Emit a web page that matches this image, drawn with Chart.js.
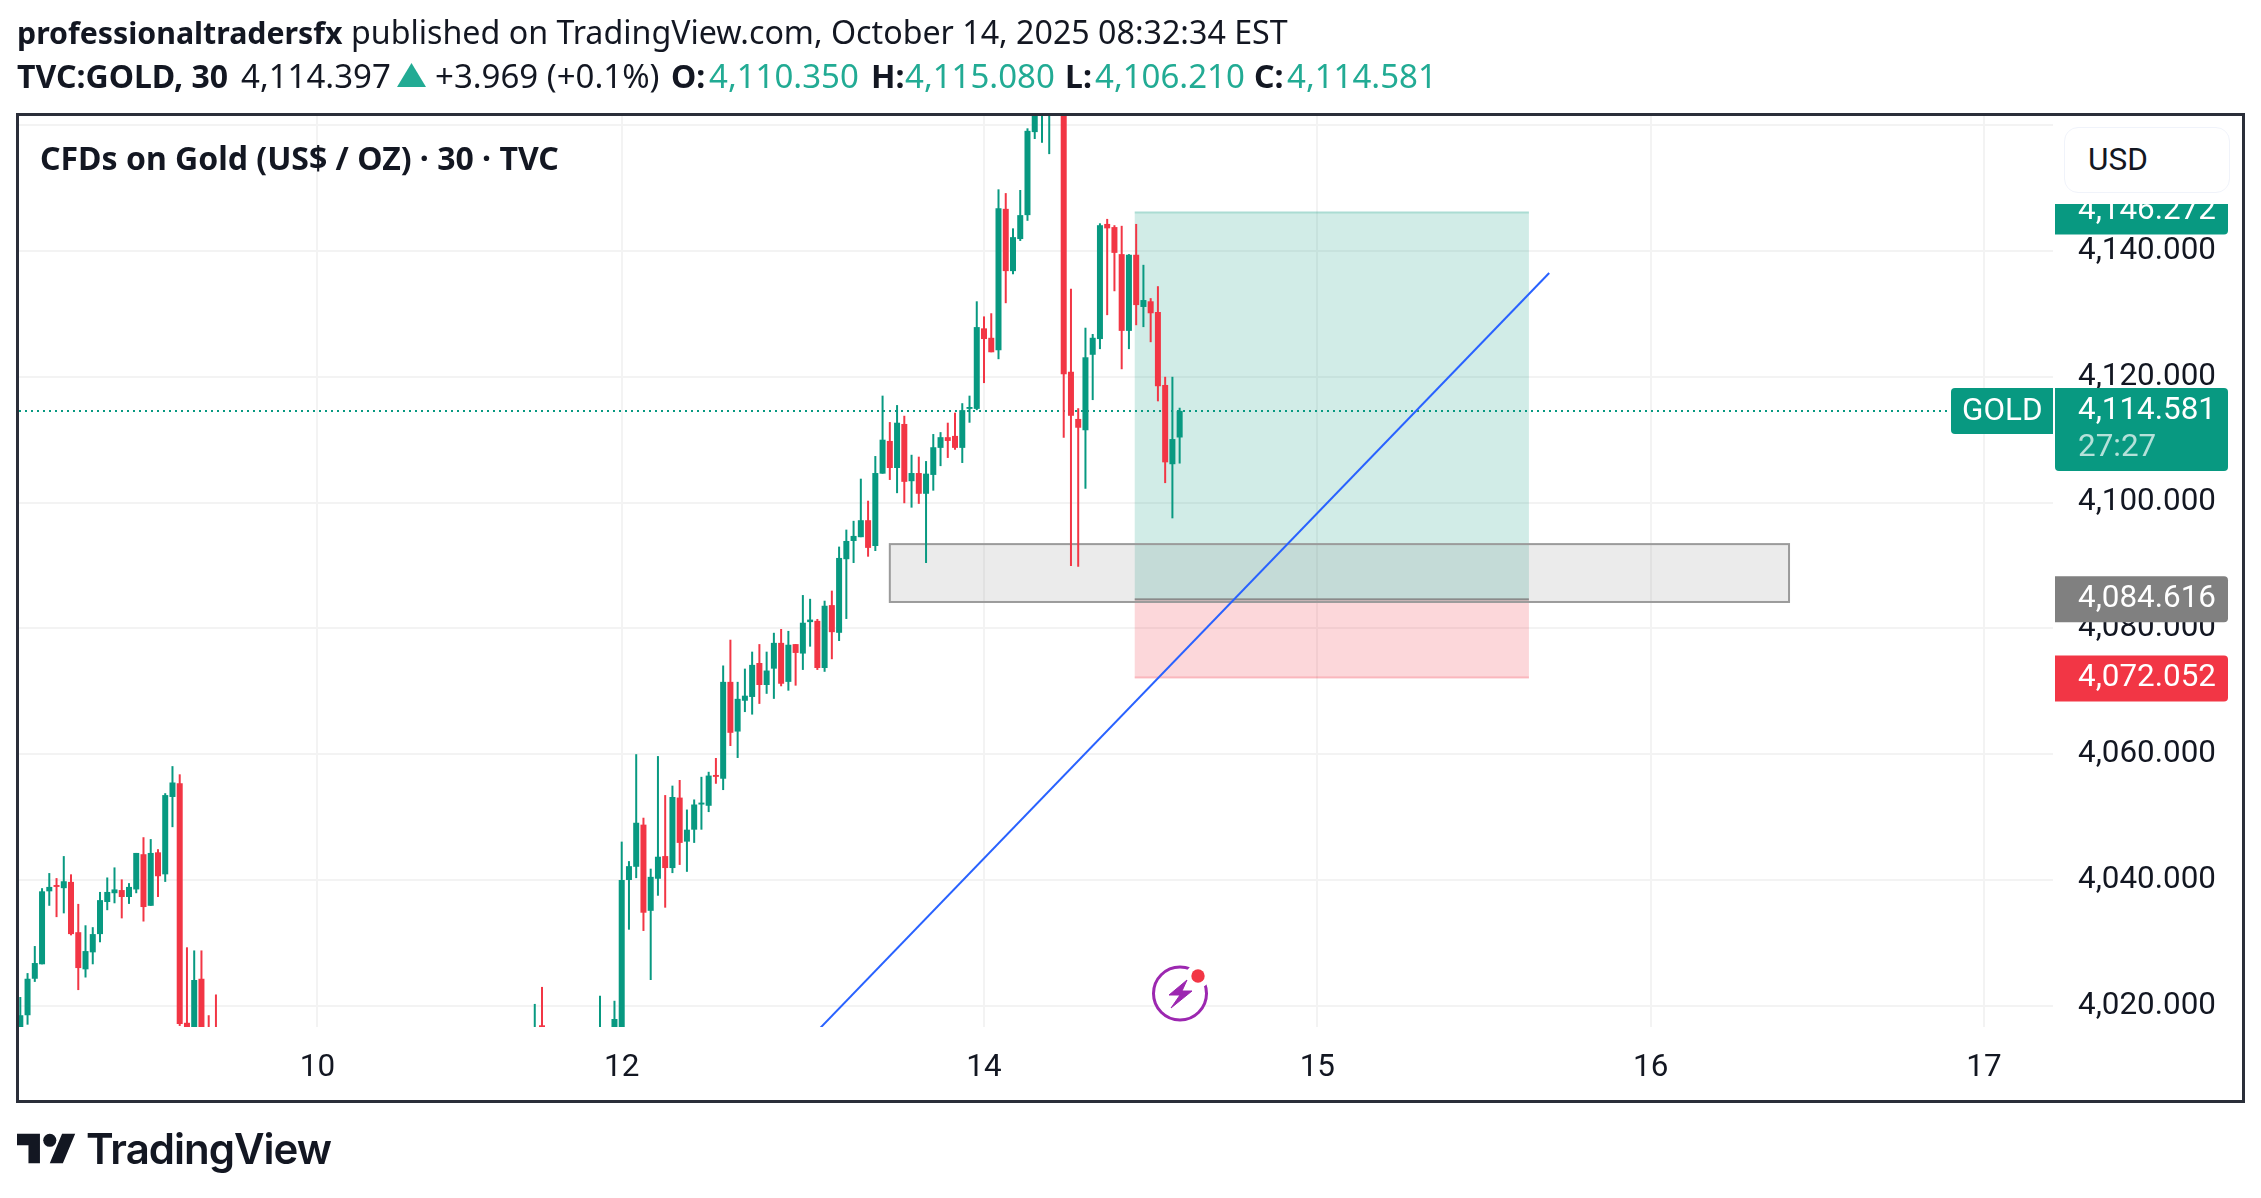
<!DOCTYPE html>
<html lang="en">
<head>
<meta charset="UTF-8">
<title>TVC:GOLD 30</title>
<script src="https://cdn.jsdelivr.net/npm/chart.js"></script>
<style>
    body { margin: 0; background: #fff; color: #131722; font-family: "Noto Sans", sans-serif; }
    #wrap { position: relative; width: 2261px; height: 1198px; overflow: hidden; }
    canvas { position: absolute; left: 0; top: 0; }
    .abs { position: absolute; white-space: nowrap; }
    .up { color: #22ab94; }
    b { font-weight: 700; }
    #line1 { left: 17px; top: 11px; font-size: 32.2px; line-height: 42px; }
    #line1 b { font-size: 30.3px; }
    .l2 { top: 55px; font-size: 33px; line-height: 42px; }
    .l2 b, b.l2 { font-size: 32px; }
    #tri { left: 397px; top: 63px; }
    #title { left: 40px; top: 137px; font-size: 32px; line-height: 42px; font-weight: 700; }
    #frame { left: 16px; top: 113px; width: 2229px; height: 990px; box-sizing: border-box; border: 3px solid #2a2e39; }
    #mask { left: 2055px; top: 95px; width: 187px; height: 109px; background: #fff; }
    #usd { left: 2064px; top: 127px; width: 166px; height: 66px; box-sizing: border-box; border: 1px solid #f0f3fa; border-radius: 14px; background: #fff;
           font: 31.5px Roboto, sans-serif; line-height: 64px; padding-left: 23px; }
    #logo { left: 17px; top: 1133px; }
    #logotext { left: 86px; top: 1122px; font: 600 42px/54px Inter, sans-serif; letter-spacing: -1px; }
    #bolt { left: 1130px; top: 950px; }
</style>
</head>
<body>
<div id="wrap">
    <canvas id="goldChart" width="2261" height="1198"></canvas>
    <div class="abs" id="line1"><b>professionaltradersfx</b> published on TradingView.com, October 14, 2025 08:32:34 EST</div>
    <b class="abs l2" style="left:17px">TVC:GOLD, 30</b>
    <span class="abs l2" style="left:241px">4,114.397</span>
    <svg class="abs" id="tri" width="29" height="24" viewBox="0 0 29 24"><polygon points="14.5,0 29,24 0,24" fill="#22ab94"/></svg>
    <span class="abs l2" style="left:435px">+3.969 (+0.1%)</span>
    <b class="abs l2" style="left:671px">O:</b><span class="abs l2 up" style="left:709px">4,110.350</span>
    <b class="abs l2" style="left:871px">H:</b><span class="abs l2 up" style="left:905px">4,115.080</span>
    <b class="abs l2" style="left:1065px">L:</b><span class="abs l2 up" style="left:1095px">4,106.210</span>
    <b class="abs l2" style="left:1254px">C:</b><span class="abs l2 up" style="left:1287px">4,114.581</span>
    <div class="abs" id="title">CFDs on Gold (US$ / OZ) · 30 · TVC</div>
    <svg class="abs" id="bolt" width="100" height="100" viewBox="0 0 100 100">
        <circle cx="50" cy="43.5" r="26.5" fill="#fff" stroke="#9c27b0" stroke-width="3"/>
        <circle cx="68" cy="26" r="12" fill="#fff"/>
        <circle cx="68" cy="26" r="6.7" fill="#f23645"/>
        <polygon points="57,30 39,45 50,45 41,58 62,41 52,41" fill="#9c27b0" stroke="#9c27b0" stroke-width="1"/>
    </svg>
    <div class="abs" id="mask"></div>
    <div class="abs" id="usd">USD</div>
    <div class="abs" id="frame"></div>
    <svg class="abs" id="logo" width="59" height="31" viewBox="0 4 36 18">
        <path d="M14 22H7V11H0V4h14v18zM28 22h-8l7.5-18h8L28 22z" fill="#131722"/>
        <circle cx="20" cy="8" r="4" fill="#131722"/>
    </svg>
    <div class="abs" id="logotext">TradingView</div>
</div>

<script>
    // bars that sit completely below the pane are left out
    const gap = (n) => Array(n).fill(null);

    const opens = [
        4014, 4018.5, 4024.3, 4026.6, 4038.2, 4039.2, 4038.7, 4039.7, 4031.7, 4025.8,
        4028.5, 4031.4, 4036.5, 4037.9, 4038.4, 4037.3, 4038.5, 4044.1, 4035.9, 4044.4,
        4040.9, 4053.2, 4055.4, 4017.3, 4014, 4024.3, 4012, 4014,
        ...gap(43), 4012, 4016.9, ...gap(7), 4012, null, 4014, 4014,
        4040.0, 4042.1, 4048.8, 4035.1, 4040.2, 4043.8, 4041.9, 4053.1, 4046.1, 4048.0,
        4052.0, 4051.8, 4056.7, 4056.1, 4071.5, 4063.6, 4068.5, 4069.1, 4074.5, 4071.0,
        4073.6, 4077.7, 4071.5, 4077.5, 4076.0, 4081.0, 4081.2, 4073.7, 4083.7, 4079.3,
        4091.0, 4093.9, 4094.5, 4097.2, 4093.1, 4104.6, 4109.8, 4105.5, 4112.5, 4103.4,
        4104.7, 4101.4, 4104.4, 4108.7, 4110.4, 4110.6, 4108.7, 4114.9, 4114.9,
        4127.7, 4126.2, 4124.2, 4146.7, 4136.8, 4141.9, 4145.7, 4158.9, 4163, 4166, null,
        4171, 4120.8, 4113.3, 4111.5, 4123.5, 4126.0, 4144.3, 4143.8, 4139.5, 4127.3,
        4139.4, 4131.1, 4132.0, 4130.3, 4118.7, 4106.1, 4110.35
    ];
    const highs = [
        4021.4, 4025.2, 4029.5, 4038.7, 4041.1, 4040.3, 4043.8, 4040.9, 4036.2, 4032.8,
        4032.5, 4038.1, 4040.4, 4042.0, 4040.1, 4039.5, 4044.3, 4046.8, 4046.5, 4044.9,
        4053.8, 4058.1, 4056.8, 4029.3, 4028.8, 4028.8, 4018.5, 4021.8,
        ...gap(43), 4020.3, 4023, ...gap(7), 4021.6, null, 4020.8, 4046.1,
        4043.0, 4060.0, 4049.9, 4041.8, 4059.7, 4053.5, 4055.0, 4055.9, 4051.2, 4052.8,
        4056.4, 4057.2, 4059.4, 4074.1, 4078.2, 4071.5, 4073.6, 4076.3, 4077.5, 4076.3,
        4079.3, 4079.9, 4079.6, 4077.5, 4085.3, 4084.7, 4081.5, 4084.4, 4086.0, 4093.0,
        4095.7, 4097.1, 4103.8, 4100.3, 4107.4, 4117.0, 4112.8, 4115.5, 4113.8, 4107.6,
        4107.3, 4106.6, 4110.9, 4111.2, 4112.7, 4114.3, 4115.8, 4117.0, 4132.0,
        4129.6, 4130.1, 4149.8, 4149.2, 4143.6, 4149.7, 4159.5, 4165, 4168, 4172, null,
        4172, 4134.0, 4115.0, 4127.8, 4126.8, 4144.4, 4145.1, 4144.1, 4144.0, 4139.5,
        4144.3, 4137.8, 4132.5, 4134.4, 4120.0, 4120.0, 4115.08
    ];
    const lows = [
        4012, 4017.0, 4023.8, 4026.6, 4035.9, 4034.1, 4034.7, 4031.2, 4022.5, 4024.5,
        4026.6, 4030.1, 4035.2, 4036.3, 4033.9, 4036.2, 4037.9, 4033.4, 4035.9, 4037.3,
        4039.7, 4048.4, 4016.8, 4010, 4012, 4008, 4004, 4006,
        ...gap(43), 4010, 4010, ...gap(7), 4010, null, 4012, 4010,
        4032.1, 4040.3, 4031.9, 4024.1, 4037.5, 4035.6, 4041.1, 4042.4, 4041.3, 4045.9,
        4048.0, 4050.8, 4055.3, 4054.3, 4061.3, 4059.4, 4066.7, 4066.3, 4068.0, 4069.6,
        4068.8, 4070.8, 4070.1, 4070.9, 4073.4, 4077.1, 4073.4, 4073.1, 4075.1, 4078.0,
        4081.5, 4090.4, 4094.5, 4091.4, 4092.3, 4104.6, 4103.6, 4101.5, 4099.9, 4099.2,
        4099.8, 4090.4, 4101.9, 4105.8, 4107.1, 4108.4, 4106.3, 4112.7, 4114.7,
        4119.0, 4123.9, 4122.8, 4131.7, 4136.3, 4141.6, 4144.8, 4157.8, 4157.2, 4155.4, null,
        4110.3, 4089.9, 4089.8, 4102.2, 4116.3, 4124.4, 4129.8, 4133.6, 4121.2, 4124.4,
        4128.2, 4127.9, 4125.5, 4116.1, 4103.1, 4097.5, 4106.21
    ];
    const closes = [
        4018.5, 4024.3, 4026.8, 4038.2, 4038.9, 4038.9, 4039.8, 4031.4, 4026.0, 4028.7,
        4031.4, 4036.8, 4038.1, 4038.5, 4037.3, 4038.9, 4044.3, 4035.7, 4044.3, 4040.6,
        4053.5, 4055.5, 4017.1, 4012, 4024.1, 4010, 4006, 4008,
        ...gap(43), 4014, 4012, ...gap(7), 4014, null, 4017.9, 4040.0,
        4042.2, 4049.1, 4034.8, 4040.5, 4043.7, 4041.9, 4053.2, 4045.9, 4048.0, 4052.0,
        4052.3, 4056.6, 4056.4, 4071.5, 4063.4, 4068.8, 4069.3, 4074.2, 4071.0, 4073.3,
        4077.7, 4071.2, 4077.4, 4076.1, 4080.9, 4081.4, 4073.7, 4083.6, 4079.4, 4091.2,
        4093.9, 4094.7, 4097.2, 4092.8, 4104.7, 4110.0, 4105.5, 4112.7, 4103.3, 4104.7,
        4101.4, 4104.6, 4108.8, 4110.4, 4109.8, 4108.7, 4114.7, 4115.2, 4127.9,
        4126.0, 4123.9, 4146.8, 4136.8, 4142.2, 4145.7, 4159.1, 4163, 4166, 4170, null,
        4120.4, 4113.8, 4111.9, 4123.1, 4126.2, 4144.1, 4143.6, 4139.7, 4127.3, 4139.4,
        4131.4, 4132.2, 4130.1, 4118.5, 4106.4, 4110.1, 4114.581
    ];

    const tickBars = [41, 83, 133, 179, 225, 271];
    const tickLabels = ['10', '12', '14', '15', '16', '17'];

    // drawings: bar index and price
    const lastPrice = 4114.581;
    const lastLineEnd = 266.4;
    const trendBars = [110, 211];
    const trendPrices = [4016.0, 4136.5];
    const positionBars = [153.8, 208.2];
    const targetPrice = 4146.272;
    const entryPrice = 4084.616;
    const stopPrice = 4072.052;
    const zoneBars = [120, 244.1];
    const zonePrices = [4093.4, 4084.2];

    const UP = '#089981';
    const DOWN = '#f23645';
    const FONT = '31.4px Roboto, sans-serif';

    const bars = opens.map((o, i) => i).filter(i => opens[i] !== null);
    const barColors = bars.map(i => closes[i] >= opens[i] ? UP : DOWN);

    const fmt = (v) => v.toLocaleString('en-US', { minimumFractionDigits: 3, maximumFractionDigits: 3 });

    const roundBox = (ctx, x, y, w, h, r) => {
        ctx.beginPath();
        ctx.roundRect(x, y, w, h, r);
        ctx.fill();
    };

    // the two boxes sit under the candles
    const drawingsPlugin = {
        id: 'drawings',
        beforeDatasetsDraw(chart) {
            const { ctx, chartArea, scales: { x, y } } = chart;
            const left = x.getPixelForValue(positionBars[0]);
            const right = x.getPixelForValue(positionBars[1]);
            const top = y.getPixelForValue(targetPrice);
            const mid = y.getPixelForValue(entryPrice);
            const bot = y.getPixelForValue(stopPrice);
            ctx.save();
            ctx.beginPath();
            ctx.rect(chartArea.left, chartArea.top, chartArea.width, chartArea.height);
            ctx.clip();
            ctx.fillStyle = 'rgba(8,153,129,0.19)';
            ctx.fillRect(left, top, right - left, mid - top);
            ctx.fillRect(left, top, right - left, 2);
            ctx.fillStyle = 'rgba(242,54,69,0.2)';
            ctx.fillRect(left, mid, right - left, bot - mid);
            ctx.fillRect(left, bot - 2, right - left, 2);
            const zx = x.getPixelForValue(zoneBars[0]);
            const zw = x.getPixelForValue(zoneBars[1]) - zx;
            const zy = y.getPixelForValue(zonePrices[0]);
            const zh = y.getPixelForValue(zonePrices[1]) - zy;
            ctx.fillStyle = 'rgba(128,128,128,0.16)';
            ctx.fillRect(zx, zy, zw, zh);
            ctx.fillStyle = '#8a8a8a';
            ctx.fillRect(left, mid - 1, right - left, 2);
            ctx.strokeStyle = '#9b9b9b';
            ctx.lineWidth = 2;
            ctx.strokeRect(zx, zy, zw, zh);
            ctx.restore();
        },
        afterDraw(chart) {
            const { ctx, chartArea, scales: { y } } = chart;
            const labelLeft = chartArea.right + 2;
            const labelWidth = 173;
            const textX = chartArea.right + 25;
            ctx.save();
            ctx.font = FONT;
            ctx.textBaseline = 'middle';
            [[targetPrice, UP], [entryPrice, '#808080'], [stopPrice, DOWN]].forEach(([price, color]) => {
                const py = y.getPixelForValue(price);
                ctx.fillStyle = color;
                roundBox(ctx, labelLeft, py - 23, labelWidth, 46, [0, 4, 4, 0]);
                ctx.fillStyle = '#fff';
                ctx.fillText(fmt(price), textX, py);
            });
            const py = y.getPixelForValue(lastPrice);
            ctx.fillStyle = UP;
            roundBox(ctx, labelLeft, py - 23, labelWidth, 83, [0, 4, 4, 4]);
            roundBox(ctx, chartArea.right - 102, py - 23, 102, 46, [4, 0, 0, 4]);
            ctx.fillStyle = '#fff';
            ctx.fillText(fmt(lastPrice), textX, py);
            ctx.fillText('GOLD', chartArea.right - 91, py + 1);
            ctx.fillStyle = 'rgba(255,255,255,0.7)';
            ctx.fillText('27:27', textX, py + 37);
            ctx.restore();
        }
    };

    new Chart(document.getElementById('goldChart'), {
        type: 'bar',
        data: {
            datasets: [
                {
                    type: 'line',
                    data: trendBars.map((b, i) => ({ x: b, y: trendPrices[i] })),
                    borderColor: '#2962ff',
                    borderWidth: 2,
                    pointRadius: 0,
                    order: 0
                },
                {
                    // wicks
                    data: bars.map(i => ({ x: i, y: [lows[i], highs[i]] })),
                    backgroundColor: barColors,
                    barThickness: 2,
                    grouped: false,
                    inflateAmount: 0,
                    order: 1
                },
                {
                    // bodies
                    data: bars.map(i => ({ x: i, y: [opens[i], closes[i]] })),
                    backgroundColor: barColors,
                    barThickness: 6,
                    grouped: false,
                    inflateAmount: 0,
                    order: 1
                },
                {
                    type: 'line',
                    data: [{ x: -0.18, y: lastPrice }, { x: lastLineEnd, y: lastPrice }],
                    borderColor: UP,
                    borderWidth: 2,
                    borderDash: [2, 4],
                    pointRadius: 0,
                    order: 2
                }
            ]
        },
        options: {
            responsive: false,
            animation: false,
            layout: { padding: { left: 19, top: 116, right: 20, bottom: 96 } },
            plugins: { legend: { display: false }, tooltip: { enabled: false } },
            scales: {
                x: {
                    type: 'linear',
                    min: -0.18,
                    max: 280.53,
                    offset: false,
                    afterBuildTicks: (scale) => { scale.ticks = tickBars.map(b => ({ value: b })); },
                    afterFit: (scale) => { scale.height = 75; },
                    grid: { color: '#f3f3f3', lineWidth: 2, drawTicks: false, offset: false },
                    border: { display: false },
                    ticks: {
                        color: '#131722',
                        font: { family: 'Roboto', size: 31.4 },
                        padding: 22,
                        autoSkip: false,
                        maxRotation: 0,
                        callback: (v) => tickLabels[tickBars.indexOf(v)]
                    }
                },
                y: {
                    position: 'right',
                    min: 4016.63,
                    max: 4161.46,
                    afterFit: (scale) => { scale.width = 188; },
                    grid: { color: '#f3f3f3', lineWidth: 2, drawTicks: false },
                    border: { display: false },
                    ticks: {
                        stepSize: 20,
                        includeBounds: false,
                        color: '#131722',
                        font: { family: 'Roboto', size: 31.4 },
                        padding: 25,
                        callback: (v) => fmt(v)
                    }
                }
            }
        },
        plugins: [drawingsPlugin]
    });
</script>
</body>
</html>
